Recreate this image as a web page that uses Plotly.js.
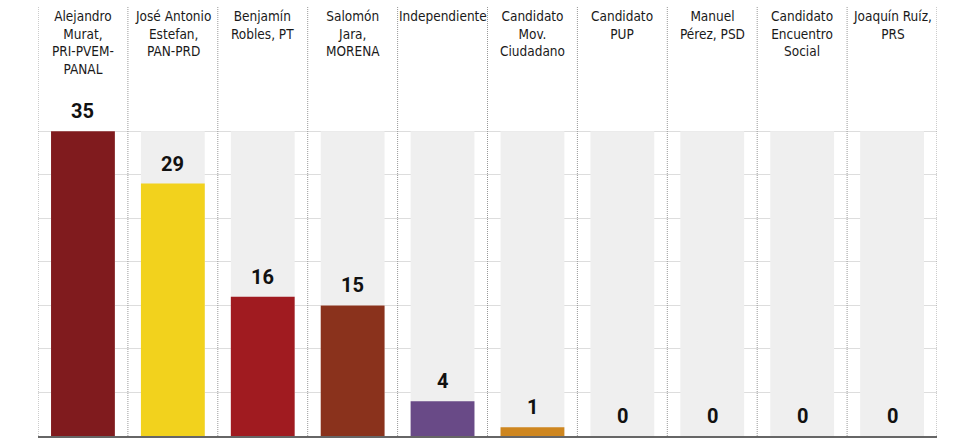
<!DOCTYPE html>
<html>
<head>
<meta charset="utf-8">
<script src="https://cdn.plot.ly/plotly-3.0.1.min.js"></script>
<style>html,body{margin:0;padding:0;background:#fff;}#chart{width:975px;height:446px;}</style>
</head>
<body>
<div id="chart"></div>
<script>
const candidates = [
  "Alejandro<br>Murat,<br>PRI-PVEM-<br>PANAL",
  "José Antonio<br>Estefan,<br>PAN-PRD",
  "Benjamín<br>Robles, PT",
  "Salomón<br>Jara,<br>MORENA",
  "Independiente",
  "Candidato<br>Mov.<br>Ciudadano",
  "Candidato<br>PUP",
  "Manuel<br>Pérez, PSD",
  "Candidato<br>Encuentro<br>Social",
  "Joaquín Ruíz,<br>PRS"
];
const seats = [35, 29, 16, 15, 4, 1, 0, 0, 0, 0];
const barColors = ["#801b1e", "#f2d21d", "#a01b20", "#8a321c", "#694a87", "#ce861f", "#555555", "#555555", "#555555", "#555555"];
const gridVals = [5, 10, 15, 20, 25, 30, 35];

const idx = candidates.map((_, i) => i);
const maxVal = Math.max(...seats);

const bg = {
  type: "bar", x: idx, y: idx.map(() => maxVal),
  marker: { color: "#efefef" }, hoverinfo: "skip", showlegend: false
};
const main = {
  type: "bar", x: idx, y: seats,
  marker: { color: barColors }, hoverinfo: "skip", showlegend: false
};

const shapes = [];
for (let i = 0; i <= candidates.length; i++) {
  shapes.push({
    type: "line", xref: "x", yref: "paper", x0: i - 0.5, x1: i - 0.5, y0: 0, y1: 1,
    line: { color: "#999999", width: 1, dash: "1px,1px" }, layer: "above"
  });
}

const annotations = [];
candidates.forEach((c, i) => {
  annotations.push({
    x: i, y: 1, xref: "x", yref: "paper", yanchor: "top", xanchor: "center",
    text: c, showarrow: false, align: "center",
    font: { family: "'Liberation Sans Narrow', 'DejaVu Sans Condensed', 'Roboto Condensed', sans-serif", size: 13.5, color: "#1a1a1a" }
  });
  annotations.push({
    x: i, y: seats[i], xref: "x", yref: "y", yanchor: "middle", xanchor: "center",
    yshift: 20, text: "<b>" + seats[i] + "</b>", showarrow: false,
    font: { family: "Roboto, 'Liberation Sans', sans-serif", size: 20, color: "#111", weight: 900 }
  });
});

const layout = {
  width: 975, height: 446,
  margin: { l: 38, r: 38, t: 6, b: 10, pad: 0 },
  paper_bgcolor: "#fff", plot_bgcolor: "#fff",
  barmode: "overlay", bargap: 0.29,
  xaxis: {
    range: [-0.5, candidates.length - 0.5], showticklabels: false, showgrid: false,
    zeroline: false, showline: true, linecolor: "#666", linewidth: 2, fixedrange: true
  },
  yaxis: {
    range: [0, 49.4], tickvals: gridVals, showticklabels: false, showgrid: true,
    gridcolor: "#dddddd", gridwidth: 1, zeroline: false, showline: false, fixedrange: true
  },
  shapes: shapes,
  annotations: annotations
};

Plotly.newPlot("chart", [bg, main], layout, { displayModeBar: false, staticPlot: true });
</script>
</body>
</html>
